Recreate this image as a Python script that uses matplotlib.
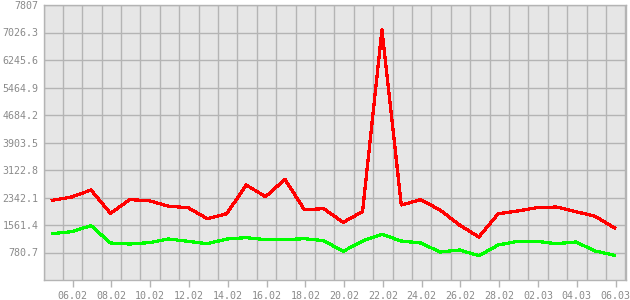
import matplotlib
matplotlib.use("Agg")
import matplotlib.pyplot as plt
import numpy as np

dates = ["05.02", "06.02", "07.02", "08.02", "09.02", "10.02", "11.02", "12.02", "13.02", "14.02",
         "15.02", "16.02", "17.02", "18.02", "19.02", "20.02", "21.02", "22.02", "23.02", "24.02",
         "25.02", "26.02", "27.02", "28.02", "01.03", "02.03", "03.03", "04.03", "05.03", "06.03"]
red_values = [2263, 2356, 2555, 1893, 2281, 2252, 2092, 2054, 1741, 1883,
              2697, 2366, 2858, 1997, 2025, 1637, 1940, 7098, 2129, 2281,
              1987, 1561, 1221, 1883, 1959, 2054, 2072, 1940, 1808, 1476]
green_values = [1315, 1372, 1543, 1050, 1022, 1060, 1164, 1098, 1031, 1164,
                1202, 1145, 1145, 1173, 1117, 814, 1107, 1296, 1107, 1050,
                795, 852, 691, 994, 1098, 1098, 1031, 1079, 823, 700]
y_ticks = [780.7, 1561.4, 2342.1, 3122.8, 3903.5, 4684.2, 5464.9, 6245.6, 7026.3, 7807]
y_labels = ["780.7", "1561.4", "2342.1", "3122.8", "3903.5", "4684.2", "5464.9", "6245.6", "7026.3", "7807"]

x = np.arange(len(dates))

fig = plt.figure(figsize=(6.3, 3.0), dpi=100)
ax = fig.add_axes([44.3 / 630, 20 / 300, (625.7 - 44.3) / 630, 275 / 300])
ax.set_facecolor("#e6e6e6")
fig.patch.set_facecolor("white")

gridc = "#b4b4b4"
for gx in np.arange(-1, len(dates)) + 0.55:
    ax.axvline(gx, color=gridc, lw=1.0, zorder=1)
for gy in y_ticks:
    ax.axhline(gy, color=gridc, lw=1.0, zorder=1)

ax.plot(x, red_values, color="#ff0000", lw=1.6, zorder=3, antialiased=False)
ax.plot(x, green_values, color="#00ff00", lw=1.6, zorder=3, antialiased=False)

ax.set_xlim(-0.41, 29.57)
ax.set_ylim(0, 7807)

tick_idx = x[1::2]
ax.set_xticks(tick_idx + 0.05)
ax.set_xticklabels([dates[i] for i in tick_idx])
ax.set_yticks(y_ticks)
ax.set_yticklabels(y_labels)

for s in ax.spines.values():
    s.set_color(gridc)
    s.set_linewidth(1.0)

ax.tick_params(axis="x", length=5, width=1, color=gridc, pad=3, labelsize=7.2,
               labelcolor="#8a8a8a", labelfontfamily="DejaVu Sans Mono")
ax.tick_params(axis="y", length=0, pad=4, labelsize=7.2,
               labelcolor="#8a8a8a", labelfontfamily="DejaVu Sans Mono")

fig.savefig("out.png", dpi=100)
